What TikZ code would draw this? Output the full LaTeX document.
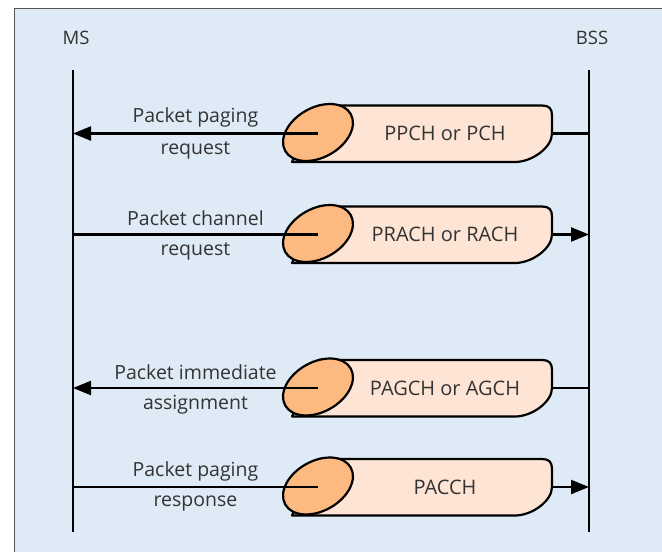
\documentclass[tikz,border=0pt]{standalone}
\usepackage{fontspec}
\setmainfont{Open Sans}
\usetikzlibrary{arrows.meta}
\definecolor{bgblue}{HTML}{DEEAF6}
\definecolor{bodypeach}{HTML}{FEE4D4}
\definecolor{ellorange}{HTML}{FDBA80}
\definecolor{txtgray}{HTML}{333333}
\definecolor{framegray}{HTML}{555555}
\tikzset{
  bodystyle/.style={fill=bodypeach, draw=black, line width=2.2pt, line join=round},
  ellstyle/.style={fill=ellorange, draw=black, line width=2.2pt},
  chantext/.style={text=txtgray, font=\fontsize{20}{22}\selectfont, inner sep=0pt},
  lbl/.style={text=txtgray, font=\fontsize{19.5}{22}\selectfont, inner sep=0pt},
  ent/.style={text=txtgray, font=\fontsize{18.5}{20}\selectfont, inner sep=0pt},
  lifeline/.style={draw=black, line width=2.2pt},
  msg/.style={draw=black, line width=2.2pt},
  tipped/.style={-{Triangle[length=18pt,width=14pt]}},
}
\newcommand{\chanrow}[3]{%
  \coordinate (#1e) at (318,#2-1);
  \coordinate (#1c) at (318,#2);
  \coordinate (#1r) at (552,#2);
  \path[bodystyle] (292,#2+28.5) -- (515,#2+28.5)
     .. controls (532,#2+28.5) and (552,#2+14) .. (552,#2)
     -- (552,#2-18) .. controls (552,#2-25) and (549,#2-28) .. (542,#2-28)
     -- (319,#2-28) -- cycle;
  \draw[ellstyle, rotate around={29.4:(#1e)}] (#1e) ellipse [x radius=37.6pt, y radius=24.9pt];
  \node[chantext] (#1t) at (445,#2) {#3};
}
\begin{document}
\begin{tikzpicture}[x=1pt,y=-1pt]
\useasboundingbox (0,0) rectangle (662,552);
\fill[white] (0,0) rectangle (662,552);
\fill[bgblue] (14,8) rectangle (662,552);
\draw[framegray, line width=1pt] (14,552) -- (14,8) -- (662,8);

% entities
\node[ent] (ms) at (76,38) {MS};
\node[ent] (bss) at (592,38) {BSS};
\coordinate (msTop) at (73,70);
\coordinate (msBot) at (73,532);
\coordinate (bssTop) at (589,70);
\coordinate (bssBot) at (589,532);
\draw[lifeline] (msTop) -- (msBot);
\draw[lifeline] (bssTop) -- (bssBot);

% channels
\chanrow{a}{133.5}{PPCH or PCH}
\chanrow{b}{234.5}{PRACH or RACH}
\chanrow{c}{388}{PAGCH or AGCH}
\chanrow{d}{487}{PACCH}

% messages
\draw[msg, tipped] (ac) -- (ac -| msTop);
\draw[msg] (ar) -- (ar -| bssTop);
\draw[msg] (bc -| msTop) -- (bc);
\draw[msg, tipped] (br) -- (br -| bssTop);
\draw[msg, tipped] (cc) -- (cc -| msTop);
\draw[msg] (cr) -- (cr -| bssTop);
\draw[msg] (dc -| msTop) -- (dc);
\draw[msg, tipped] (dr) -- (dr -| bssTop);

% labels
\node[lbl] (a1) at (195.5,117.5) {Packet paging};
\node[lbl] (a2) at (195.5,150) {request};
\node[lbl] (b1) at (195.5,218.5) {Packet channel};
\node[lbl] (b2) at (195.5,251) {request};
\node[lbl] (c1) at (195.5,372) {Packet immediate};
\node[lbl] (c2) at (195.5,404.5) {assignment};
\node[lbl] (d1) at (195.5,471) {Packet paging};
\node[lbl] (d2) at (195.5,503.5) {response};
\end{tikzpicture}
\end{document}
